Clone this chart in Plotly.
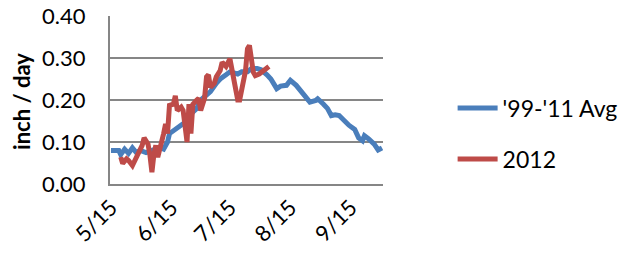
import plotly.graph_objects as go
import pandas as pd

start = pd.Timestamp("2012-05-15")

avg_days = [0, 4, 5, 7, 9, 11, 13, 15, 18, 21, 25, 27, 29, 30, 33, 35, 38, 40, 44, 46, 49, 51, 54, 56,
            59, 61, 65, 67, 70, 72, 75, 77, 80, 82, 85, 87, 90, 92, 95, 97, 100, 102, 105, 106, 109,
            111, 113, 115, 117, 120, 122, 125, 127, 129, 130, 132, 135, 137, 139]
avg_vals = [0.080, 0.080, 0.070, 0.083, 0.073, 0.086, 0.075, 0.080, 0.075, 0.081, 0.087, 0.083, 0.100,
            0.120, 0.130, 0.135, 0.147, 0.163, 0.180, 0.200, 0.210, 0.220, 0.240, 0.250, 0.260, 0.267,
            0.262, 0.267, 0.267, 0.275, 0.275, 0.272, 0.260, 0.250, 0.227, 0.233, 0.235, 0.247, 0.235,
            0.223, 0.207, 0.195, 0.199, 0.203, 0.190, 0.180, 0.163, 0.165, 0.163, 0.147, 0.140, 0.130,
            0.110, 0.103, 0.115, 0.108, 0.095, 0.081, 0.086]

y2012_days = [5, 6, 8, 9, 11, 13, 14, 16, 17, 19, 20, 21, 22, 23, 24, 26, 27, 28, 29, 30, 32, 33, 34,
              36, 37, 39, 40, 41, 42, 44, 45, 46, 48, 49, 50, 51, 53, 54, 56, 57, 59, 61, 62, 64, 65,
              66, 68, 69, 70, 71, 73, 74, 76, 78, 79, 81]
y2012_vals = [0.064, 0.049, 0.060, 0.056, 0.044, 0.064, 0.072, 0.092, 0.110, 0.095, 0.068, 0.028,
              0.070, 0.092, 0.064, 0.095, 0.120, 0.143, 0.120, 0.187, 0.190, 0.210, 0.175, 0.183,
              0.175, 0.100, 0.190, 0.120, 0.190, 0.200, 0.204, 0.175, 0.204, 0.255, 0.260, 0.230,
              0.240, 0.255, 0.270, 0.290, 0.280, 0.298, 0.270, 0.230, 0.200, 0.200, 0.240, 0.270,
              0.322, 0.330, 0.266, 0.258, 0.262, 0.270, 0.274, 0.280]

tick_labels = ["5/15", "6/15", "7/15", "8/15", "9/15"]
tick_dates = ["2012-05-15", "2012-06-15", "2012-07-15", "2012-08-15", "2012-09-15"]

avg_x = [start + pd.Timedelta(days=d) for d in avg_days]
y2012_x = [start + pd.Timedelta(days=d) for d in y2012_days]

FONT = "Lato"
FS = 22
fig = go.Figure()
fig.add_trace(go.Scatter(x=avg_x, y=avg_vals, mode="lines", name="'99-'11 Avg", legendgroup="a",
                         line=dict(color="#4A7EBB", width=5)))
fig.add_trace(go.Scatter(x=y2012_x, y=y2012_vals, mode="lines", name="2012", legendgroup="b",
                         line=dict(color="#BE4B48", width=5)))

fig.update_layout(
    width=635, height=257,
    margin=dict(l=110, r=245, t=16, b=73),
    paper_bgcolor="white", plot_bgcolor="white",
    font=dict(family=FONT, size=FS, color="black"),
    showlegend=True,
    legend=dict(x=1.255, y=0.30, xanchor="left", yanchor="middle",
                font=dict(family=FONT, size=FS + 1), tracegroupgap=18, itemwidth=40,
                bgcolor="rgba(0,0,0,0)"),
    xaxis=dict(
        range=[start - pd.Timedelta(hours=12), start + pd.Timedelta(days=139, hours=12)],
        tickvals=tick_dates, ticktext=tick_labels, tickangle=-45,
        showgrid=False, showline=True, linecolor="#868686", linewidth=2,
        ticks="", zeroline=False, tickfont=dict(size=FS), automargin=False,
    ),
    yaxis=dict(
        range=[0, 0.4], dtick=0.1, tickformat=".2f",
        showgrid=True, gridcolor="#868686", gridwidth=1.5,
        showline=True, linecolor="#868686", linewidth=2,
        ticks="", zeroline=False, tickfont=dict(size=FS), automargin=False,
        ticklabelstandoff=18,
    ),
    annotations=[dict(text="<b>inch / day</b>", x=-0.325, y=0.49, xref="paper", yref="paper",
                      textangle=-90, showarrow=False, font=dict(size=FS),
                      xanchor="center", yanchor="middle")],
)

fig.write_html("out.html", config={"displayModeBar": False},
               post_script="document.body.style.margin='0';")
